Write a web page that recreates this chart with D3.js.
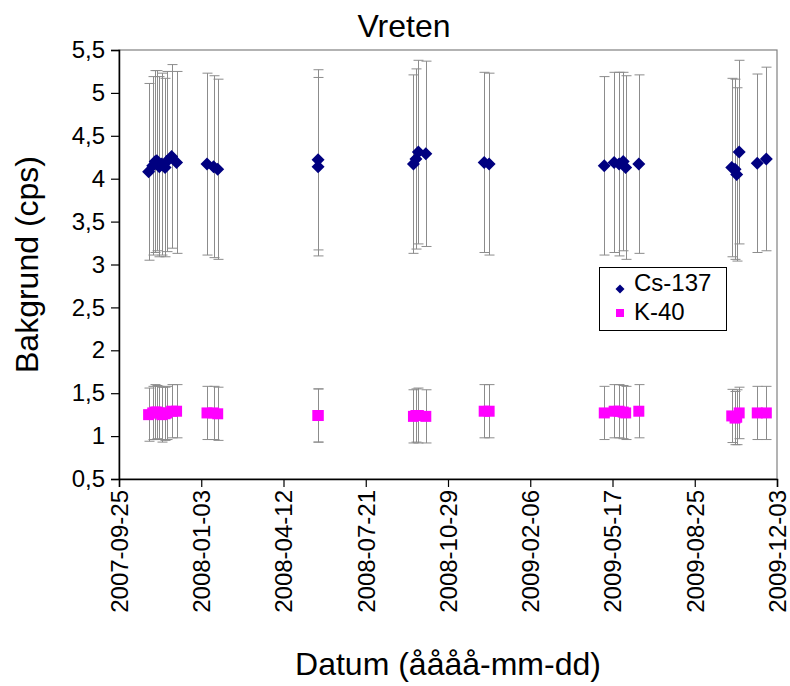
<!DOCTYPE html>
<html><head><meta charset="utf-8">
<script src="https://cdn.jsdelivr.net/npm/d3@7"></script>
<style>body{margin:0;background:#fff}svg{display:block;font-family:"Liberation Sans",Arial,sans-serif}</style>
</head><body>
<svg id="c" width="790" height="686"></svg>
<script>
const dates = ["2007-10-31","2007-11-05","2007-11-08","2007-11-10","2007-11-13","2007-11-16","2007-11-20","2007-11-22","2007-11-28","2007-12-04",
"2008-01-10","2008-01-18","2008-01-23",
"2008-05-24","2008-05-24",
"2008-09-17","2008-09-20","2008-09-23","2008-10-02",
"2008-12-12","2008-12-18",
"2009-05-07","2009-05-19","2009-05-25","2009-05-30","2009-06-02","2009-06-18",
"2009-10-09","2009-10-13","2009-10-15","2009-10-18","2009-11-09","2009-11-20"];
const cs137 = [4.08,4.15,4.20,4.21,4.14,4.17,4.13,4.20,4.26,4.19,
4.17,4.14,4.11,
4.22,4.14,
4.17,4.23,4.31,4.29,
4.19,4.17,
4.15,4.19,4.17,4.20,4.13,4.17,
4.13,4.11,4.05,4.31,4.18,4.23];
const cs137Err = [1.03,1.04,1.06,1.05,1.05,1.06,1.04,1.05,1.07,1.06,
1.06,1.06,1.05,
1.05,1.04,
1.04,1.05,1.07,1.08,
1.05,1.06,
1.04,1.05,1.07,1.04,1.07,1.04,
1.04,1.05,1.01,1.07,1.04,1.07];
const k40 = [1.25,1.27,1.28,1.28,1.27,1.25,1.26,1.27,1.29,1.29,
1.27,1.27,1.26,
1.24,1.24,
1.23,1.24,1.24,1.23,
1.29,1.29,
1.27,1.29,1.29,1.28,1.27,1.29,
1.235,1.21,1.22,1.27,1.27,1.27];
const k40Err = [0.31,0.31,0.32,0.31,0.31,0.32,0.31,0.31,0.31,0.31,
0.31,0.31,0.31,
0.31,0.31,
0.31,0.31,0.32,0.31,
0.31,0.31,
0.31,0.31,0.31,0.31,0.31,0.31,
0.31,0.31,0.32,0.30,0.31,0.31];
const xTicks = ["2007-09-25","2008-01-03","2008-04-12","2008-07-21","2008-10-29","2009-02-06","2009-05-17","2009-08-25","2009-12-03"];
const yTicks = [0.5,1,1.5,2,2.5,3,3.5,4,4.5,5,5.5];
const seriesNames = ["Cs-137","K-40"];

const parse = d3.utcParse("%Y-%m-%d");
const svg = d3.select("#c");
const L=119, R=777, T=50, B=479;
const x = d3.scaleUtc().domain([parse(xTicks[0]), parse(xTicks[xTicks.length-1])]).range([L,R]);
const y = d3.scaleLinear().domain([0.5,5.5]).range([B,T]);
const fmt = v => String(v).replace(".", ",");
const FONT = "Liberation Sans, Arial, sans-serif";

// plot border (top/right)
svg.append("rect").attr("x",L).attr("y",T).attr("width",R-L).attr("height",B-T)
  .attr("fill","none").attr("stroke","#808080").attr("stroke-width",1.2);

// error bars
function errBars(vals, errs){
  const g = svg.append("g").attr("stroke","#8c8c8c").attr("stroke-width",1).attr("fill","none");
  dates.forEach((d,i)=>{
    const cx = Math.round(x(parse(d)))+0.5;
    const y1 = y(vals[i]+errs[i]), y2 = y(vals[i]-errs[i]);
    g.append("line").attr("x1",cx).attr("x2",cx).attr("y1",y1).attr("y2",y2);
    g.append("line").attr("x1",cx-5).attr("x2",cx+5).attr("y1",y1).attr("y2",y1);
    g.append("line").attr("x1",cx-5).attr("x2",cx+5).attr("y1",y2).attr("y2",y2);
  });
}
errBars(cs137, cs137Err);
errBars(k40, k40Err);

// markers
const diamond = "M0,-6.5L6.5,0L0,6.5L-6.5,0Z";
svg.append("g").selectAll("path").data(dates).join("path")
  .attr("d",diamond).attr("fill","#000080")
  .attr("transform",(d,i)=>`translate(${x(parse(d))},${y(cs137[i])})`);
svg.append("g").selectAll("rect").data(dates).join("rect")
  .attr("x",d=>x(parse(d))-5.5).attr("y",(d,i)=>y(k40[i])-5.5)
  .attr("width",11).attr("height",11).attr("fill","#ff00ff");

// axes
const yAxis = svg.append("g").attr("transform",`translate(${L},0)`)
  .call(d3.axisLeft(y).tickValues(yTicks).tickFormat(fmt).tickSize(8).tickPadding(6));
yAxis.select(".domain").attr("stroke","#000").attr("stroke-width",1.5);
yAxis.selectAll(".tick line").attr("stroke","#000").attr("stroke-width",1.2);
yAxis.selectAll("text").attr("font-size",24).attr("fill","#000").attr("font-family",FONT);

const xAxis = svg.append("g").attr("transform",`translate(0,${B})`)
  .call(d3.axisBottom(x).tickValues(xTicks.map(parse)).tickFormat(d3.utcFormat("%Y-%m-%d")).tickSize(8));
xAxis.select(".domain").attr("stroke","#000").attr("stroke-width",1.5);
xAxis.selectAll(".tick line").attr("stroke","#000").attr("stroke-width",1.2);
xAxis.selectAll("text").attr("font-size",24).attr("fill","#000")
  .attr("font-family",FONT)
  .attr("transform","rotate(-90)").attr("text-anchor","end")
  .attr("x",-11).attr("y",0).attr("dy","0.35em");

// titles
svg.append("text").attr("x",404).attr("y",37).attr("text-anchor","middle")
  .attr("font-size",32).text("Vreten");
svg.append("text").attr("x",448).attr("y",675).attr("text-anchor","middle")
  .attr("font-size",32).text("Datum (åååå-mm-dd)");
svg.append("text").attr("transform",`translate(38,${(T+B)/2}) rotate(-90)`)
  .attr("text-anchor","middle").attr("font-size",32).text("Bakgrund (cps)");

// legend
const lg = svg.append("g");
lg.append("rect").attr("x",599.5).attr("y",267.5).attr("width",127).attr("height",63)
  .attr("fill","#fff").attr("stroke","#000").attr("stroke-width",1);
lg.append("path").attr("d","M0,-4.5L4.5,0L0,4.5L-4.5,0Z").attr("fill","#000080").attr("transform","translate(620,289)");
lg.append("rect").attr("x",616).attr("y",309).attr("width",8).attr("height",8).attr("fill","#ff00ff");
lg.append("text").attr("x",634).attr("y",291).attr("font-size",24).text(seriesNames[0]);
lg.append("text").attr("x",634).attr("y",320).attr("font-size",24).text(seriesNames[1]);
</script>
</body></html>
